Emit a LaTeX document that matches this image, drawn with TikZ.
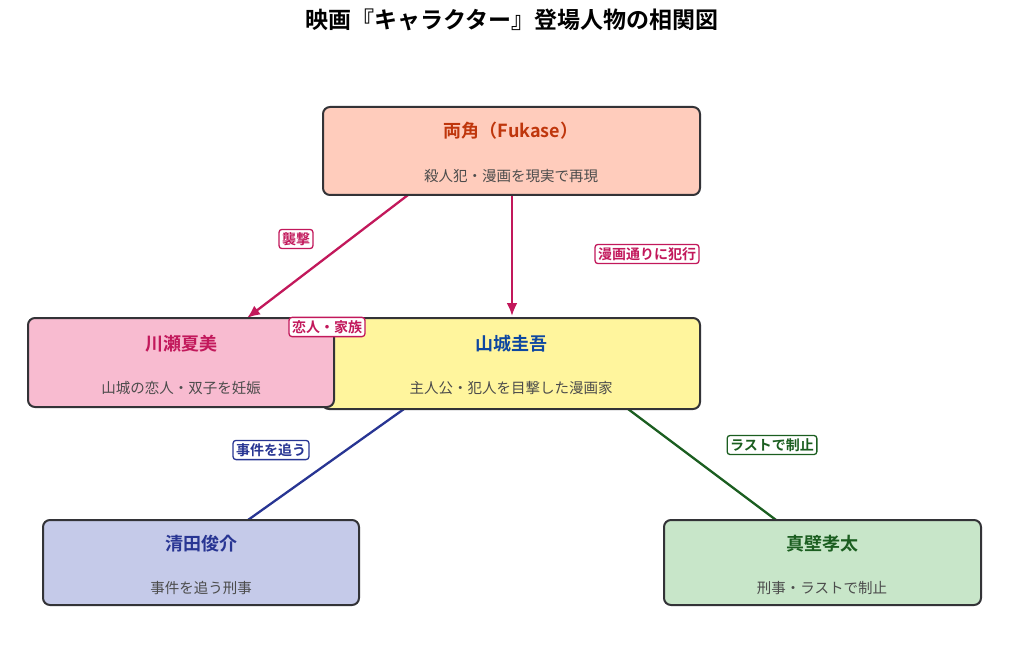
\documentclass[tikz,border=0pt]{standalone}
\usepackage{fontspec}
\usetikzlibrary{arrows.meta}
\setmainfont{Noto Sans CJK JP}
\newfontfamily\jpb{Noto Sans CJK JP Bold}
\begin{document}
\begin{tikzpicture}[x=1pt,y=-1pt,
 box/.style={draw=black!75!cyan!40!black,line width=2pt,rounded corners=7pt},
 ttl/.style={font=\jpb\fontsize{18}{20}\selectfont},
 sub/.style={font=\fontsize{14.5}{16}\selectfont,text=black!70},
 lab/.style={draw,line width=1.3pt,rounded corners=3pt,fill=white,inner sep=3pt,font=\jpb\fontsize{14}{16}\selectfont},
 edge/.style={line width=2.3pt}]
\useasboundingbox (0,0) rectangle (1024,668);
\definecolor{cr}{HTML}{C2185B}
\definecolor{cb}{HTML}{283593}
\definecolor{cg}{HTML}{1B5E20}
\node[font=\jpb\fontsize{23}{25}\selectfont] (title) at (512,20) {映画『キャラクター』登場人物の相関図};
% anchor coordinates
\coordinate (aA) at (408,195); \coordinate (aB) at (512,195);
\coordinate (kN) at (247,318); \coordinate (yN) at (512,316);
\coordinate (yA) at (404,409); \coordinate (yB) at (628,409);
\coordinate (sN) at (248,520); \coordinate (mN) at (776,520);
\draw[edge,cr,-{Latex[length=13pt,width=11pt]}] (aA) -- (kN);
\draw[edge,cr,-{Latex[length=13pt,width=11pt]}] (aB) -- (yN);
\draw[edge,cb] (yA) -- (sN);
\draw[edge,cg] (yB) -- (mN);
% boxes
\draw[box,fill={rgb,255:red,255;green,204;blue,188}] (323,107) rectangle (700,195);
\node[ttl,text={rgb,255:red,191;green,54;blue,12}] (nA) at (511,131) {両角（Fukase）};
\node[sub] (sA) at (511,176) {殺人犯・漫画を現実で再現};
\draw[box,fill={rgb,255:red,255;green,245;blue,157}] (322,318) rectangle (700,409);
\node[ttl,text={rgb,255:red,13;green,71;blue,161}] (nY) at (511,344) {山城圭吾};
\node[sub] (sY) at (511,388) {主人公・犯人を目撃した漫画家};
\draw[box,fill={rgb,255:red,248;green,187;blue,208}] (28,318) rectangle (334,407);
\node[ttl,text=cr] (nK) at (181,344) {川瀬夏美};
\node[sub] (sK) at (181,388) {山城の恋人・双子を妊娠};
\draw[box,fill={rgb,255:red,197;green,202;blue,233}] (43,520) rectangle (359,605);
\node[ttl,text=cb] (nS) at (201,544) {清田俊介};
\node[sub] (sS) at (201,588) {事件を追う刑事};
\draw[box,fill={rgb,255:red,200;green,230;blue,201}] (664,520) rectangle (981,605);
\node[ttl,text=cg] (nM) at (822,544) {真壁孝太};
\node[sub] (sM) at (822,588) {刑事・ラストで制止};
% labels
\node[lab,draw=cr,text=cr] (l1) at (296,239) {襲撃};
\node[lab,draw=cr,text=cr] (l2) at (647,254) {漫画通りに犯行};
\node[lab,draw=cr,text=cr] (l3) at (327,327) {恋人・家族};
\node[lab,draw=cb,text=cb] (l4) at (271,450) {事件を追う};
\node[lab,draw=cg,text=cg] (l5) at (772,445) {ラストで制止};
\end{tikzpicture}
\end{document}
